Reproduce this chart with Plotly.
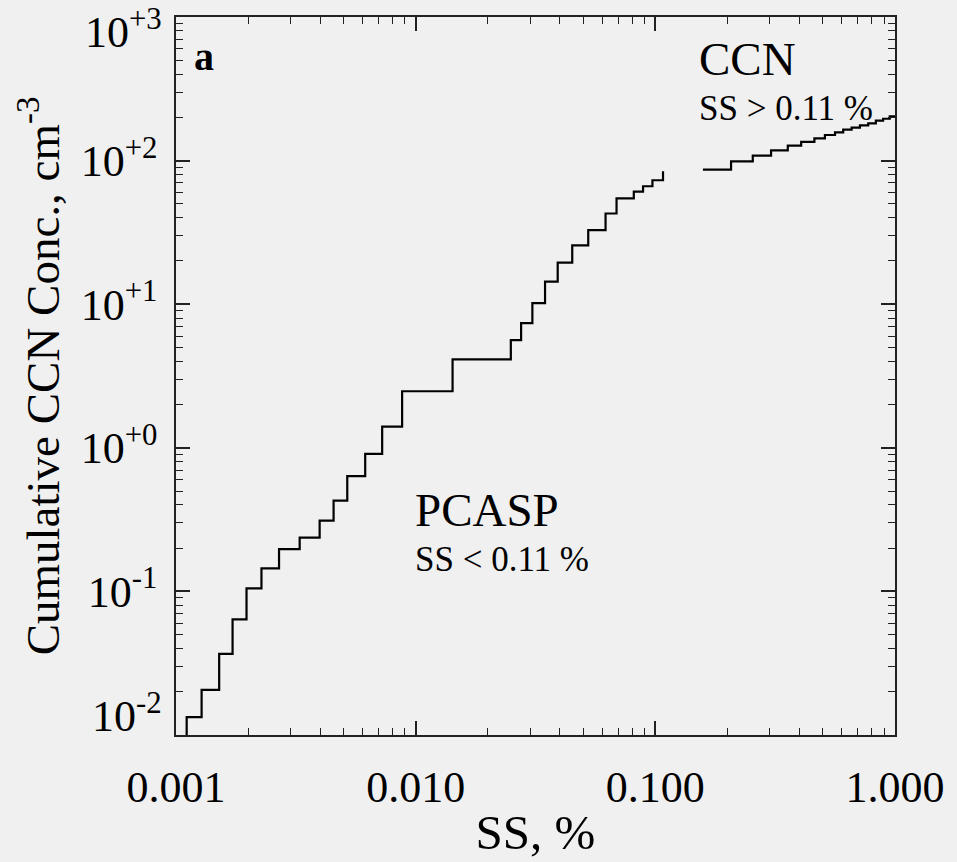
import plotly.graph_objects as go

# PCASP cumulative steps (SS < 0.11 %): step edge SS (%) and level reached there (cm^-3)
pcasp_ss = [0.001108, 0.001279, 0.001514, 0.001722, 0.001969, 0.002273, 0.002691,
            0.003281, 0.003975, 0.004545, 0.005183, 0.006158, 0.007248, 0.008780,
            0.014256, 0.02495, 0.02754, 0.03069, 0.03466, 0.03914, 0.04501,
            0.05248, 0.06199, 0.06889, 0.08131, 0.08887, 0.09726, 0.10766]
pcasp_conc = [0.01334, 0.02065, 0.03672, 0.0639, 0.1050, 0.1445, 0.1968,
              0.2371, 0.3112, 0.4285, 0.6357, 0.9085, 1.406, 2.476,
              4.13, 5.62, 7.38, 10.17, 14.37, 19.49, 25.70,
              32.8, 42.8, 54.5, 60.9, 66.3, 73.0, 84.3]
pcasp_floor = 0.01

# CCN counter cumulative steps (SS > 0.11 %)
ccn_ss = [0.158, 0.207, 0.255, 0.304, 0.357, 0.406, 0.461, 0.510, 0.562,
          0.608, 0.659, 0.714, 0.773, 0.832, 0.892, 0.951, 1.0]
ccn_conc = [86.6, 98.9, 108.3, 117.9, 127.1, 134.9, 142.8, 150.8, 157.2,
            164.2, 169.5, 175.9, 181.6, 189.6, 195.7, 203.0, 203.0]

x_tickvals = [0.001, 0.01, 0.1, 1.0]
x_ticktext = ["0.001", "0.010", "0.100", "1.000"]
y_tickvals = [0.01, 0.1, 1, 10, 100, 1000]
y_ticktext = ["10<sup>-2</sup>", "10<sup>-1</sup>", "10<sup>+0</sup>",
              "10<sup>+1</sup>", "10<sup>+2</sup>", "10<sup>+3</sup>"]

x_minor = [m * 10.0 ** e for e in range(-3, 0) for m in range(2, 10)]
y_minor = [m * 10.0 ** e for e in range(-2, 3) for m in range(2, 10)]

FONT = "Liberation Serif"
BG = "#f0f0f0"
AX = "#222222"

fig = go.Figure()
fig.add_trace(go.Scatter(
    x=[pcasp_ss[0]] + pcasp_ss, y=[pcasp_floor] + pcasp_conc,
    mode="lines", line=dict(color="black", width=2.2, shape="hv"),
    showlegend=False, hoverinfo="skip"))
fig.add_trace(go.Scatter(
    x=ccn_ss, y=ccn_conc,
    mode="lines", line=dict(color="black", width=2.2, shape="hv"),
    showlegend=False, hoverinfo="skip"))

axis_common = dict(
    showgrid=False, zeroline=False, showline=True, linecolor=AX, linewidth=1.5,
    mirror="allticks", ticks="inside", ticklen=14, tickwidth=1.5, tickcolor=AX,
    tickfont=dict(family=FONT, size=44, color="black"),
)

# end labels of the y axis are pulled inward (as in the original), drawn separately
y_ticktext_axis = [""] + y_ticktext[1:-1] + [""]

fig.update_xaxes(
    type="log", range=[-3, 0], tickvals=x_tickvals, ticktext=x_ticktext,
    minor=dict(ticks="inside", ticklen=7, tickwidth=1.2, tickcolor=AX, tickvals=x_minor),
    title=dict(text="SS, %", font=dict(family=FONT, size=49, color="black"), standoff=4),
    ticklabelstandoff=12,
    **axis_common)
fig.update_yaxes(
    type="log", range=[-2, 3], tickvals=y_tickvals, ticktext=y_ticktext_axis,
    minor=dict(ticks="inside", ticklen=7, tickwidth=1.2, tickcolor=AX, tickvals=y_minor),
    title=dict(text="Cumulative CCN Conc., cm<sup>-3</sup>",
               font=dict(family=FONT, size=47, color="black"), standoff=6),
    ticklabelstandoff=8,
    **axis_common)

for txt, yp in [(y_ticktext[-1], 0.982), (y_ticktext[0], 0.030)]:
    fig.add_annotation(text=txt, x=-0.016, y=yp, xref="paper", yref="paper",
                       xanchor="right", yanchor="middle", showarrow=False,
                       font=dict(family=FONT, size=44, color="black"))

ann = [
    dict(text="<b>a</b>", x=0.022, y=0.945, size=40),
    dict(text="CCN", x=0.725, y=0.942, size=47),
    dict(text="SS &gt; 0.11 %", x=0.725, y=0.873, size=35),
    dict(text="PCASP", x=0.330, y=0.313, size=47),
    dict(text="SS &lt; 0.11 %", x=0.330, y=0.244, size=35),
]
for a in ann:
    fig.add_annotation(text=a["text"], x=a["x"], y=a["y"], xref="paper", yref="paper",
                       xanchor="left", yanchor="middle", showarrow=False,
                       font=dict(family=FONT, size=a["size"], color="black"))

fig.update_layout(
    width=957, height=862, paper_bgcolor=BG, plot_bgcolor=BG,
    margin=dict(l=176, r=60, t=17, b=125),
    font=dict(family=FONT, color="black"),
)

fig.write_html("out.html")
